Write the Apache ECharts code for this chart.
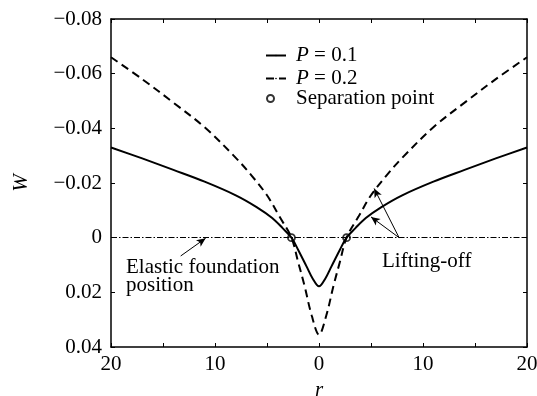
<!DOCTYPE html>
<html>
<head>
<meta charset="utf-8">
<script src="https://cdn.jsdelivr.net/npm/echarts@6/dist/echarts.min.js"></script>
<style>
  html, body { margin: 0; padding: 0; background: #fff; }
  #chart { width: 537px; height: 396px; }
</style>
</head>
<body>
<div id="chart"></div>
<script>
// radial coordinate r and deflection W
var rSolid = [-20, -17, -14, -11, -8, -6, -4.5, -3.5, -2.65, -2, -1.2, -0.6, 0, 0.6, 1.2, 2, 2.65, 3.5, 4.5, 6, 8, 11, 14, 17, 20];
var wSolid = [-0.0330, -0.0290, -0.0248, -0.0205, -0.0155, -0.0112, -0.0072, -0.0035, 0, 0.0045, 0.0105, 0.0150, 0.0178, 0.0150, 0.0105, 0.0045, 0, -0.0035, -0.0072, -0.0112, -0.0155, -0.0205, -0.0248, -0.0290, -0.0330];

var rDashed = [-20, -17, -14, -11, -8, -6.5, -5, -3.8, -2.65, -2, -1.4, -0.7, 0, 0.7, 1.4, 2, 2.65, 3.8, 5, 6.5, 8, 11, 14, 17, 20];
var wDashed = [-0.0660, -0.0580, -0.0494, -0.0404, -0.0292, -0.0228, -0.0155, -0.0077, 0, 0.0090, 0.0175, 0.0285, 0.0355, 0.0285, 0.0175, 0.0090, 0, -0.0077, -0.0155, -0.0228, -0.0292, -0.0404, -0.0494, -0.0580, -0.0660];

var sepR = [-2.65, 2.65];
var sepW = [0, 0];

var seriesNames = ['P = 0.1', 'P = 0.2', 'Separation point'];

function pairs(xs, ys) {
    var out = [];
    xs.forEach(function (x, i) { out.push([x, ys[i]]); });
    return out;
}

var FONT = 'Liberation Serif';
var FS = 21;
var myChart = echarts.init(document.getElementById('chart'));

var tickAxisX = {
    type: 'value', min: -20, max: 20, interval: 5,
    axisLine: { show: true, onZero: false, lineStyle: { color: '#000', width: 1.5 } },
    axisTick: { show: true, inside: true, length: 4, lineStyle: { color: '#000', width: 1 } },
    splitLine: { show: false }
};
var tickAxisY = {
    type: 'value', min: -0.08, max: 0.04, interval: 0.02, inverse: true,
    axisLine: { show: true, onZero: false, lineStyle: { color: '#000', width: 1.5 } },
    axisTick: { show: true, inside: true, length: 4, lineStyle: { color: '#000', width: 1 } },
    splitLine: { show: false }
};

function legendRow(name, top, left, w, h, pad) {
    return {
        data: [name],
        left: left, top: top,
        padding: 0,
        itemWidth: w, itemHeight: h,
        textStyle: {
            fontFamily: FONT, fontSize: FS, lineHeight: 20, color: '#000', padding: [0, 0, 0, pad],
            rich: { i: { fontFamily: FONT, fontSize: FS, lineHeight: 20, fontStyle: 'italic', color: '#000' } }
        },
        formatter: function (n) { return n.charAt(0) === 'P' ? '{i|P}' + n.slice(1) : n; }
    };
}

myChart.setOption({
    animation: false,
    textStyle: { fontFamily: FONT, color: '#000' },
    grid: { left: 111, right: 10, top: 19, bottom: 49, containLabel: false, outerBoundsMode: 'none' },
    legend: [
        legendRow(seriesNames[0], 45, 265, 20, 2, 5),
        legendRow(seriesNames[1], 68, 265, 20, 2, 5),
        legendRow(seriesNames[2], 88, 266, 7, 7, 17)
    ],
    xAxis: [
        Object.assign({}, tickAxisX, {
            position: 'bottom',
            name: 'r', nameLocation: 'middle', nameGap: 28,
            nameTextStyle: { fontFamily: FONT, fontSize: FS, fontStyle: 'italic', color: '#000' },
            axisLabel: {
                fontFamily: FONT, fontSize: FS, color: '#000', margin: 7,
                formatter: function (v) { return v % 10 === 0 ? String(Math.abs(v)) : ''; }
            }
        }),
        Object.assign({}, tickAxisX, { position: 'top', axisLabel: { show: false } })
    ],
    yAxis: [
        Object.assign({}, tickAxisY, {
            position: 'left',
            name: 'W', nameLocation: 'middle', nameGap: 79, nameRotate: 90,
            nameTextStyle: { fontFamily: FONT, fontSize: FS, fontStyle: 'italic', color: '#000' },
            axisLabel: {
                fontFamily: FONT, fontSize: FS, color: '#000', margin: 9,
                formatter: function (v) {
                    var r = Math.round(v * 100) / 100;
                    if (r === 0) return '0';
                    return (r < 0 ? '\u2212' : '') + Math.abs(r).toFixed(2);
                }
            }
        }),
        Object.assign({}, tickAxisY, { position: 'right', axisLabel: { show: false } })
    ],
    series: [
        {
            name: seriesNames[0],
            type: 'line',
            data: pairs(rSolid, wSolid),
            smooth: 0.35,
            symbol: 'none',
            legendIcon: 'path://M0,0h20v2h-20z',
            lineStyle: { color: '#000', width: 2, type: 'solid' },
            itemStyle: { color: '#000' },
            z: 3
        },
        {
            name: seriesNames[1],
            type: 'line',
            data: pairs(rDashed, wDashed),
            smooth: 0.35,
            symbol: 'none',
            legendIcon: 'path://M0,0h7v2h-7z M13,0h7v2h-7z',
            lineStyle: { color: '#000', width: 2, type: [8, 5] },
            itemStyle: { color: '#000' },
            z: 3
        },
        {
            name: seriesNames[2],
            type: 'scatter',
            data: pairs(sepR, sepW),
            symbol: 'circle',
            symbolSize: 7,
            itemStyle: { color: 'rgba(255,255,255,0)', borderColor: '#000', borderWidth: 1.8 },
            z: 5,
            markLine: {
                silent: true,
                symbol: ['none', 'arrow'],
                symbolSize: [6, 9],
                label: { show: false },
                lineStyle: { color: '#000', width: 1, type: 'solid' },
                data: [
                    [
                        { coord: [-20, 0], symbol: 'none', lineStyle: { type: [6, 2, 1.5, 2], width: 1 } },
                        { coord: [20, 0], symbol: 'none' }
                    ],
                    [{ coord: [-13.3, 0.0067] }, { coord: [-10.9, 0.0002] }],
                    [{ coord: [7.7, 0] }, { coord: [5.3, -0.0180] }],
                    [{ coord: [7.7, 0] }, { coord: [5.0, -0.0076] }]
                ]
            }
        }
    ],
    graphic: [
        {
            type: 'text', left: 126, top: 257, silent: true,
            style: { text: 'Elastic foundation\nposition', fontFamily: FONT, fontSize: FS, lineHeight: 18, fill: '#000' }
        },
        {
            type: 'text', left: 382, top: 251, silent: true,
            style: { text: 'Lifting-off', fontFamily: FONT, fontSize: FS, lineHeight: 18, fill: '#000' }
        }
    ]
});
</script>
</body>
</html>
